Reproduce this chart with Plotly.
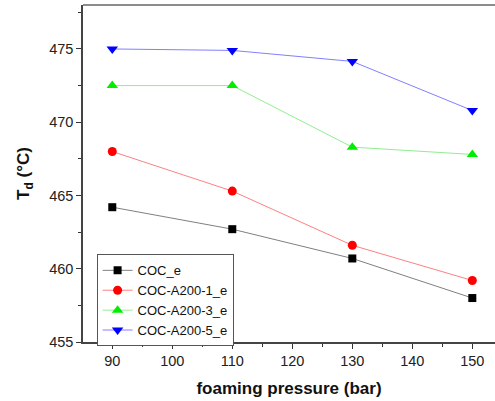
import plotly.graph_objects as go

# Foaming pressure (bar) and decomposition temperature Td (°C)
pressure = [90, 110, 130, 150]
coc_e = [464.2, 462.7, 460.7, 458.0]
coc_a200_1_e = [468.0, 465.3, 461.6, 459.2]
coc_a200_3_e = [472.5, 472.5, 468.3, 467.8]
coc_a200_5_e = [475.0, 474.9, 474.15, 470.8]

series = [
    ("COC_e", coc_e, "#000000", "#808080", "square", 8),
    ("COC-A200-1_e", coc_a200_1_e, "#ff0000", "#ff8080", "circle", 9),
    ("COC-A200-3_e", coc_a200_3_e, "#00ee00", "#90ee90", "triangle-up", 10),
    ("COC-A200-5_e", coc_a200_5_e, "#0000ff", "#8080ff", "triangle-down", 10),
]

fig = go.Figure()
for name, ys, mcol, lcol, sym, size in series:
    fig.add_trace(go.Scatter(
        x=pressure, y=ys, name=name, mode="lines+markers",
        line=dict(color=lcol, width=1),
        marker=dict(color=mcol, symbol=sym, size=size, line=dict(width=0)),
    ))

FAMILY = "Liberation Sans, Arial, sans-serif"
tick_font = dict(family=FAMILY, size=14.5, color="#222222")
title_font = dict(family=FAMILY, size=17, color="#111111")

fig.update_layout(
    width=495, height=401,
    margin=dict(l=83, r=0, t=5, b=59),
    paper_bgcolor="white", plot_bgcolor="white",
    font=dict(family=FAMILY, size=13, color="#222222"),
    showlegend=True,
    legend=dict(
        x=0.033, y=0.26, xanchor="left", yanchor="top",
        bordercolor="#555555", borderwidth=1, bgcolor="white",
        font=dict(family=FAMILY, size=13, color="#111111"),
        tracegroupgap=0, itemwidth=30,
    ),
    xaxis=dict(
        range=[85.12, 153.78], tickmode="array",
        tickvals=[90, 100, 110, 120, 130, 140, 150],
        tickfont=tick_font,
        ticks="outside", ticklen=5, tickwidth=1, tickcolor="#333333",
        showline=True, linecolor="#444444", linewidth=1.5,
        showgrid=False, zeroline=False,
        minor=dict(dtick=5, tick0=85, ticks="outside", ticklen=3, tickcolor="#333333"),
        title=dict(text="<b>foaming pressure (bar)</b>", font=title_font, standoff=14),
    ),
    yaxis=dict(
        range=[455, 478], tickmode="array",
        tickvals=[455, 460, 465, 470, 475],
        tickfont=tick_font,
        ticks="outside", ticklen=5, tickwidth=1, tickcolor="#333333",
        showline=True, linecolor="#444444", linewidth=1.5,
        showgrid=False, zeroline=False,
        minor=dict(dtick=2.5, tick0=455, ticks="outside", ticklen=3, tickcolor="#333333"),
        title=dict(text="<b>T<sub>d</sub> (°C)</b>", font=title_font, standoff=15),
    ),
    shapes=[dict(type="line", xref="paper", yref="paper", x0=0, x1=1, y0=1, y1=1,
                 line=dict(color="#666666", width=1.5))],
)

fig.write_html("out.html")
